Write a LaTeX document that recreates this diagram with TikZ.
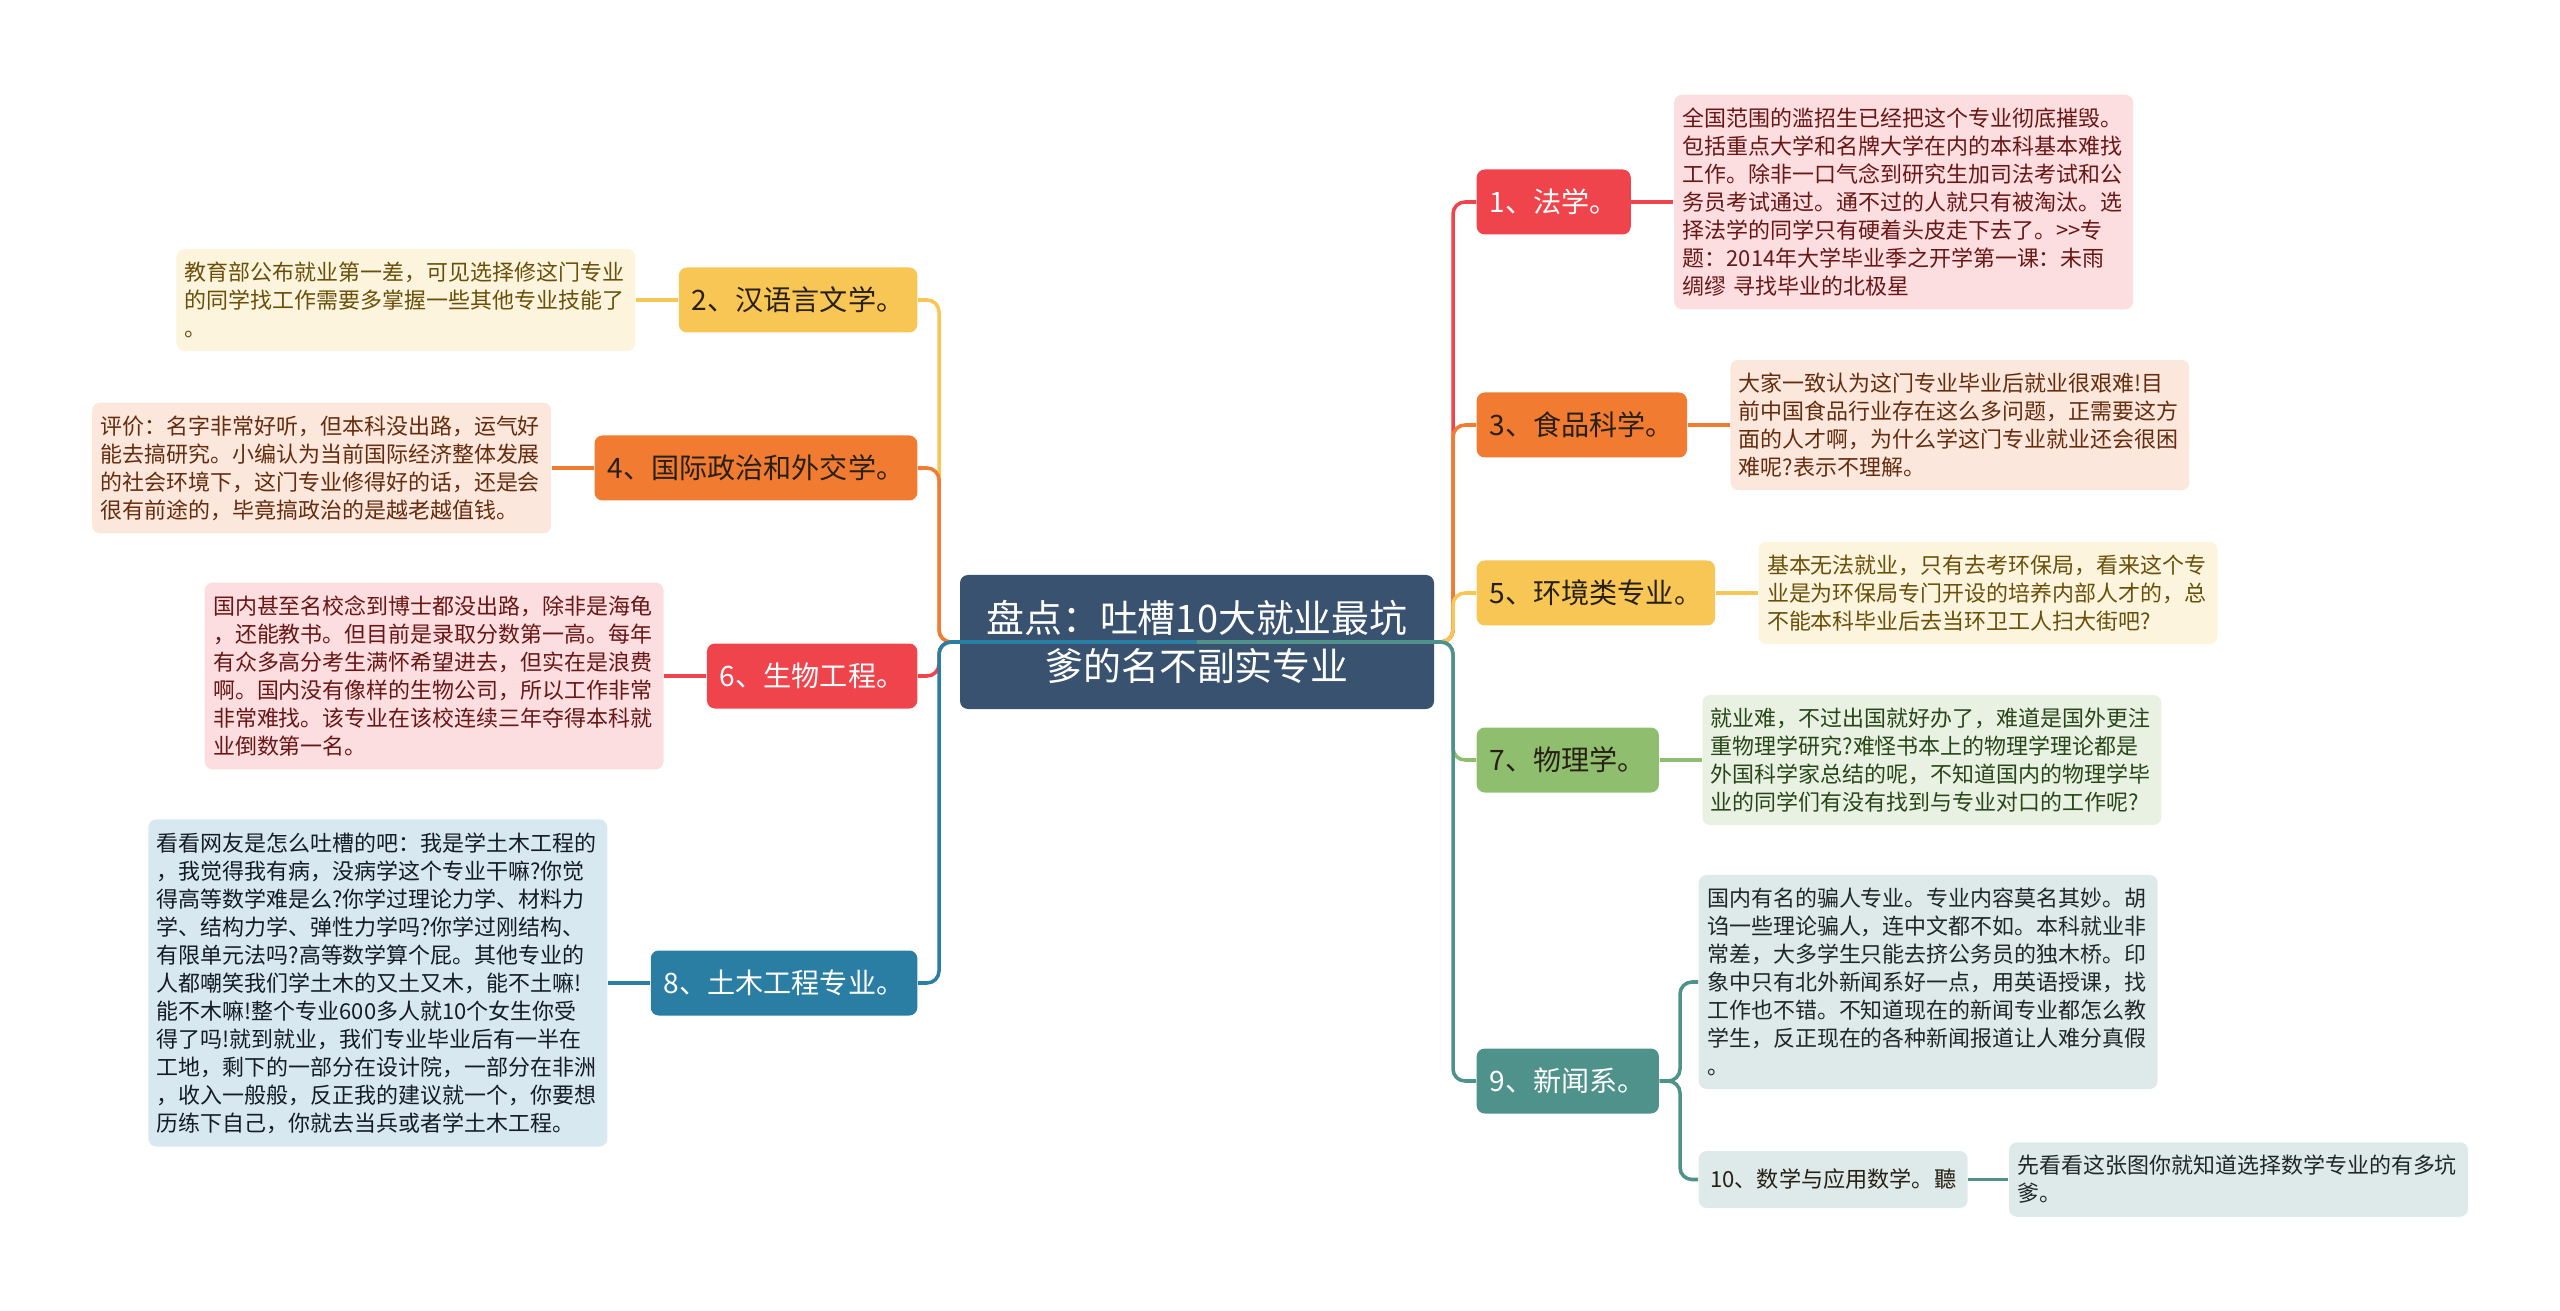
\documentclass[tikz,border=0pt]{standalone}
\usepackage{fontspec}
\setmainfont{Noto Sans CJK SC}
\usetikzlibrary{positioning,calc}

\definecolor{cRoot}{RGB}{57,82,112}
\definecolor{cDark}{RGB}{40,32,22}
\definecolor{cRed}{RGB}{240,68,77}
\definecolor{cRedNote}{RGB}{252,222,224}
\definecolor{cRedText}{RGB}{105,22,22}
\definecolor{cOrange}{RGB}{240,123,49}
\definecolor{cOrangeNote}{RGB}{252,231,220}
\definecolor{cOrangeText}{RGB}{100,45,15}
\definecolor{cYellow}{RGB}{247,198,84}
\definecolor{cYellowNote}{RGB}{253,244,222}
\definecolor{cYellowText}{RGB}{105,80,10}
\definecolor{cGreen}{RGB}{143,190,110}
\definecolor{cGreenNote}{RGB}{233,242,226}
\definecolor{cGreenText}{RGB}{40,70,25}
\definecolor{cTeal}{RGB}{79,145,139}
\definecolor{cTealNote}{RGB}{222,234,233}
\definecolor{cTealText}{RGB}{30,40,40}
\definecolor{cBlue}{RGB}{42,126,163}
\definecolor{cBlueNote}{RGB}{215,232,241}
\definecolor{cBlueText}{RGB}{20,28,38}

\tikzset{
  root/.style={fill=cRoot, text=white, rounded corners=0.08cm, minimum width=4.74cm, minimum height=1.34cm, align=center, font=\fontsize{10.8}{13.7}\selectfont},
  topic/.style={rounded corners=0.08cm, inner xsep=0.13cm, minimum height=0.65cm, font=\fontsize{8}{10}\selectfont},
  note/.style={rounded corners=0.08cm, text width=4.42cm, align=left, inner xsep=0.085cm, inner ysep=0.13cm, font=\fontsize{6.25}{7.97}\selectfont},
  conn/.style={line width=1pt, rounded corners=0.12cm},
}

\begin{document}
\begin{tikzpicture}
    \useasboundingbox (0,0) rectangle (25.6,-13.11);

    % Centre
    \node[root] (root) at (11.97,-6.42) {盘点：吐槽10大就业最坑\\爹的名不副实专业};

    % Left topics
    \node[topic, fill=cYellow, text=cDark, anchor=east] (n2) at (9.18,-3.00) {2、汉语言文学。};
    \node[topic, fill=cOrange, text=cDark, anchor=east] (n4) at (9.18,-4.68) {4、国际政治和外交学。};
    \node[topic, fill=cRed, text=white, anchor=east] (n6) at (9.18,-6.76) {6、生物工程。};
    \node[topic, fill=cBlue, text=white, anchor=east] (n8) at (9.18,-9.83) {8、土木工程专业。};

    % Right topics
    \node[topic, fill=cRed, text=white, anchor=west] (n1) at (14.76,-2.02) {1、法学。};
    \node[topic, fill=cOrange, text=cDark, anchor=west] (n3) at (14.76,-4.25) {3、食品科学。};
    \node[topic, fill=cYellow, text=cDark, anchor=west] (n5) at (14.76,-5.93) {5、环境类专业。};
    \node[topic, fill=cGreen, text=cDark, anchor=west] (n7) at (14.76,-7.60) {7、物理学。};
    \node[topic, fill=cTeal, text=white, anchor=west] (n9) at (14.76,-10.81) {9、新闻系。};
    \node[topic, fill=cTealNote, text=cDark, anchor=west, inner xsep=0.115cm, minimum height=0.57cm, font=\fontsize{6.3}{8}\selectfont] (n10) at (16.98,-11.795) {10、数学与应用数学。聽};

    % Notes, left
    \node[note, fill=cYellowNote, text=cYellowText, left=0.42cm of n2] (d2) {教育部公布就业第一差，可见选择修这门专业\\的同学找工作需要多掌握一些其他专业技能了\\。};
    \node[note, fill=cOrangeNote, text=cOrangeText, left=0.42cm of n4] (d4) {评价：名字非常好听，但本科没出路，运气好\\能去搞研究。小编认为当前国际经济整体发展\\的社会环境下，这门专业修得好的话，还是会\\很有前途的，毕竟搞政治的是越老越值钱。};
    \node[note, fill=cRedNote, text=cRedText, left=0.42cm of n6] (d6) {国内甚至名校念到博士都没出路，除非是海龟\\，还能教书。但目前是录取分数第一高。每年\\有众多高分考生满怀希望进去，但实在是浪费\\啊。国内没有像样的生物公司，所以工作非常\\非常难找。该专业在该校连续三年夺得本科就\\业倒数第一名。};
    \node[note, fill=cBlueNote, text=cBlueText, left=0.42cm of n8] (d8) {看看网友是怎么吐槽的吧：我是学土木工程的\\，我觉得我有病，没病学这个专业干嘛?你觉\\得高等数学难是么?你学过理论力学、材料力\\学、结构力学、弹性力学吗?你学过刚结构、\\有限单元法吗?高等数学算个屁。其他专业的\\人都嘲笑我们学土木的又土又木，能不土嘛!\\能不木嘛!整个专业600多人就10个女生你受\\得了吗!就到就业，我们专业毕业后有一半在\\工地，剩下的一部分在设计院，一部分在非洲\\，收入一般般，反正我的建议就一个，你要想\\历练下自己，你就去当兵或者学土木工程。};

    % Notes, right
    \node[note, fill=cRedNote, text=cRedText, right=0.42cm of n1] (d1) {全国范围的滥招生已经把这个专业彻底摧毁。\\包括重点大学和名牌大学在内的本科基本难找\\工作。除非一口气念到研究生加司法考试和公\\务员考试通过。通不过的人就只有被淘汰。选\\择法学的同学只有硬着头皮走下去了。{>}{>}专\\题：2014年大学毕业季之开学第一课：未雨\\绸缪 寻找毕业的北极星};
    \node[note, fill=cOrangeNote, text=cOrangeText, right=0.42cm of n3] (d3) {大家一致认为这门专业毕业后就业很艰难!目\\前中国食品行业存在这么多问题，正需要这方\\面的人才啊，为什么学这门专业就业还会很困\\难呢?表示不理解。};
    \node[note, fill=cYellowNote, text=cYellowText, right=0.42cm of n5] (d5) {基本无法就业，只有去考环保局，看来这个专\\业是为环保局专门开设的培养内部人才的，总\\不能本科毕业后去当环卫工人扫大街吧?};
    \node[note, fill=cGreenNote, text=cGreenText, right=0.42cm of n7] (d7) {就业难，不过出国就好办了，难道是国外更注\\重物理学研究?难怪书本上的物理学理论都是\\外国科学家总结的呢，不知道国内的物理学毕\\业的同学们有没有找到与专业对口的工作呢?};
    \node[note, fill=cTealNote, text=cTealText, anchor=west] (d9) at (16.98,-9.82) {国内有名的骗人专业。专业内容莫名其妙。胡\\诌一些理论骗人，连中文都不如。本科就业非\\常差，大多学生只能去挤公务员的独木桥。印\\象中只有北外新闻系好一点，用英语授课，找\\工作也不错。不知道现在的新闻专业都怎么教\\学生，反正现在的各种新闻报道让人难分真假\\。};
    \node[note, fill=cTealNote, text=cTealText, right=0.40cm of n10] (d10) {先看看这张图你就知道选择数学专业的有多坑\\爹。};

    % Branches
    \foreach \t/\c in {n2/cYellow, n4/cOrange, n6/cRed, n8/cBlue} {
        \draw[conn, \c] (root.center) -| ([xshift=0.21cm]\t.east) -- (\t.east);
    }
    \foreach \t/\c in {n1/cRed, n3/cOrange, n5/cYellow, n7/cGreen, n9/cTeal} {
        \draw[conn, \c] (root.center) -| ([xshift=-0.23cm]\t.west) -- (\t.west);
    }

    % Topic to note
    \foreach \t/\d/\c in {n2/d2/cYellow, n4/d4/cOrange, n6/d6/cRed, n8/d8/cBlue} {
        \draw[conn, \c] (\t.west) -- (\t.west -| \d.east);
    }
    \foreach \t/\d/\c in {n1/d1/cRed, n3/d3/cOrange, n5/d5/cYellow, n7/d7/cGreen} {
        \draw[conn, \c] (\t.east) -- (\t.east -| \d.west);
    }
    \draw[conn, cTeal] (n9.east) -| ([xshift=-0.18cm]d9.west) -- (d9.west);
    \draw[conn, cTeal] (n9.east) -| ([xshift=-0.18cm]n10.west) -- (n10.west);
    \draw[conn, cTeal] (n10.east) -- (d10.west);
\end{tikzpicture}
\end{document}
